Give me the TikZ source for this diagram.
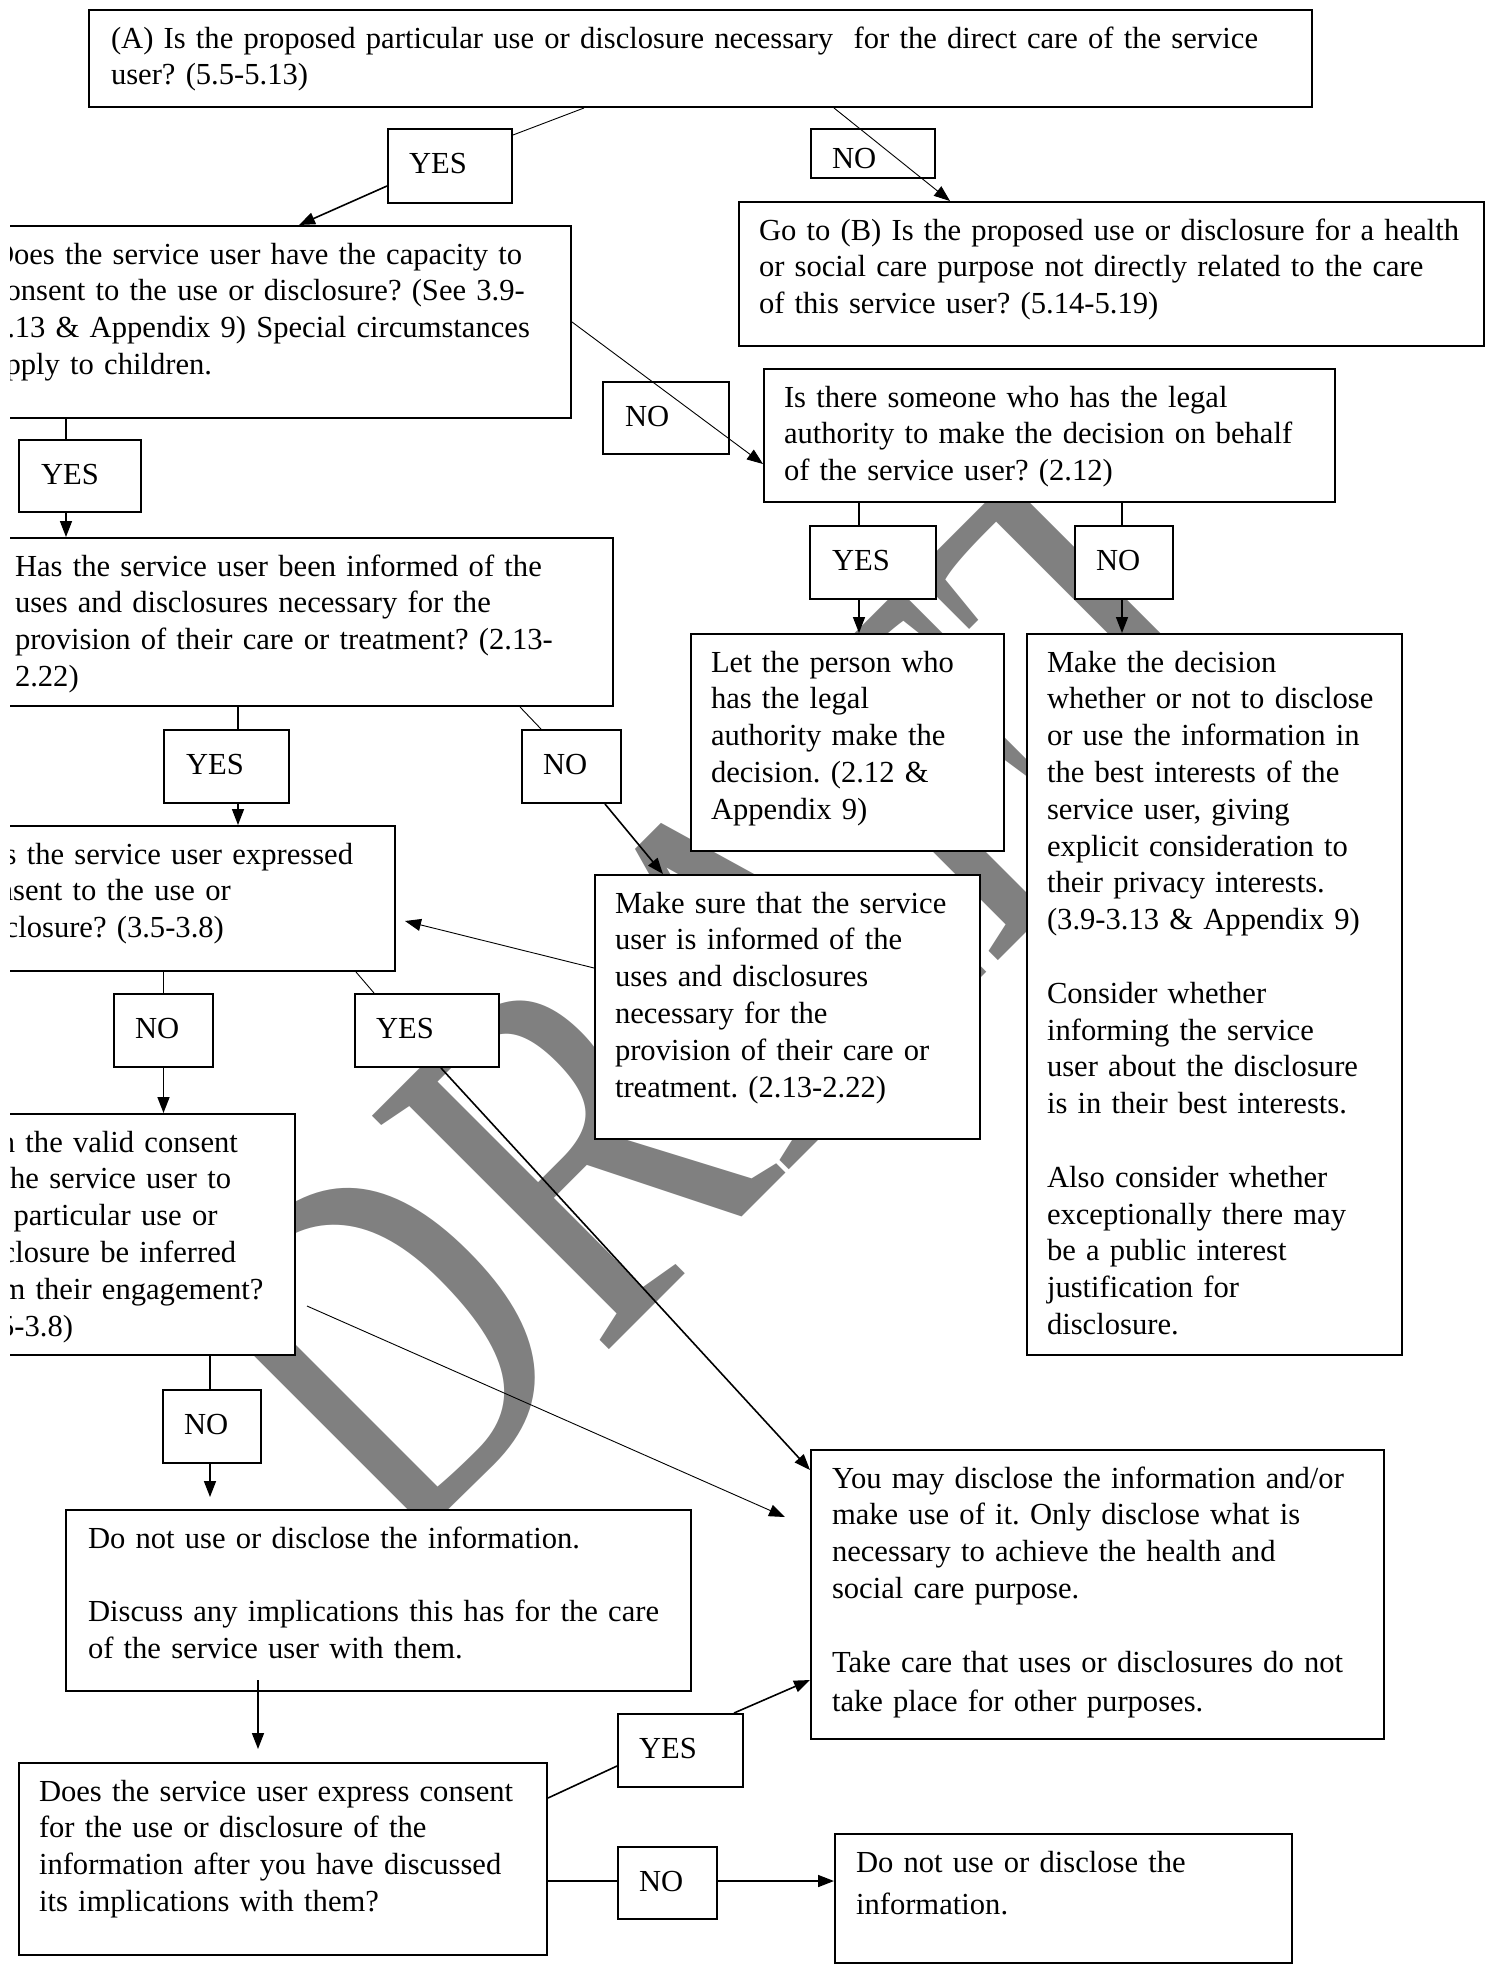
\documentclass[tikz,border=0pt]{standalone}
\usepackage{fontspec}
\setmainfont{Liberation Serif}
\usetikzlibrary{arrows.meta,calc}
\frenchspacing

% lines of a box, left padded, never re-wrapped
\newcommand{\qlines}[2][10pt]{\begin{tabular}[t]{@{\hspace*{#1}}l@{}}#2\end{tabular}}

\tikzset{
	qbox/.style 2 args={draw, fill=white, line width=1pt, anchor=north west, inner sep=0pt,
		text width=#1, text height=19pt, text depth=#2},
	ans/.style 2 args={draw, fill=white, line width=1pt, anchor=north west, inner sep=0pt,
		text width=#1, text height=22pt, text depth=#2},
	link/.style={line width=0.45pt},
	flow/.style={line width=0.8pt},
	>={Triangle[length=8pt,width=6pt]}
}

\begin{document}
\begin{tikzpicture}[x=0.5pt, y=-0.5pt, font=\fontsize{15.3}{18.4}\selectfont]
	\useasboundingbox (0,0) rectangle (1489,1966);
	\fill[white] (0,0) rectangle (1489,1966);
	\clip (10,0) rectangle (1489,1966);

	% watermark
	\node[rotate=45, xscale=0.78, text=gray, inner sep=0pt, font=\fontsize{254}{254}\selectfont] (wm) at (738,984) {DRAFT};

	% question and action boxes
	\node[qbox={611.5pt}{29.5pt}] (bA) at (88,9) {\qlines[11pt]{(A) Is the proposed particular use or disclosure necessary~ for the direct care of the service\\ user? (5.5-5.13)}};
	\node[qbox={372.5pt}{53pt}] (bB) at (738,201) {\qlines{Go to (B) Is the proposed use or disclosure for a health\\ or social care purpose not directly related to the care\\ of this service user? (5.14-5.19)}};
	\node[qbox={299.5pt}{77pt}] (bCap) at (-29,225) {\qlines{Does the service user have the capacity to\\ consent to the use or disclosure? (See 3.9-\\ 3.13 \& Appendix 9) Special circumstances\\ apply to children.}};
	\node[qbox={285.5pt}{47.5pt}] (bLegal) at (763,368) {\qlines{Is there someone who has the legal\\ authority to make the decision on behalf\\ of the service user? (2.12)}};
	\node[qbox={309pt}{65pt}] (bInf) at (-6,537) {\qlines{Has the service user been informed of the\\ uses and disclosures necessary for the\\ provision of their care or treatment? (2.13-\\ 2.22)}};
	\node[qbox={156.5pt}{89.5pt}] (bLet) at (690,633) {\qlines{Let the person who\\ has the legal\\ authority make the\\ decision. (2.12 \&\\ Appendix 9)}};
	\node[qbox={187.5pt}{341.5pt}] (bDec) at (1026,633) {\qlines{Make the decision\\ whether or not to disclose\\ or use the information in\\ the best interests of the\\ service user, giving\\ explicit consideration to\\ their privacy interests.\\ (3.9-3.13 \& Appendix 9)\\ \\ Consider whether\\ informing the service\\ user about the disclosure\\ is in their best interests.\\ \\ Also consider whether\\ exceptionally there may\\ be a public interest\\ justification for\\ disclosure.}};
	\node[qbox={223pt}{53.5pt}] (bCons) at (-52,825) {\qlines{Has the service user expressed\\ consent to the use or\\ disclosure? (3.5-3.8)}};
	\node[qbox={192.5pt}{113pt}] (bSure) at (594,874) {\qlines{Make sure that the service\\ user is informed of the\\ uses and disclosures\\ necessary for the\\ provision of their care or\\ treatment. (2.13-2.22)}};
	\node[qbox={174.5pt}{101.5pt}] (bValid) at (-55,1113) {\qlines{Can the valid consent\\ of the service user to\\ the particular use or\\ disclosure be inferred\\ from their engagement?\\ (3.5-3.8)}};
	\node[qbox={312.5pt}{71.5pt}] (bNot) at (65,1509) {\qlines[11pt]{Do not use or disclose the information.\\ \\ Discuss any implications this has for the care\\ of the service user with them.}};
	\node[qbox={286.5pt}{125.5pt}] (bMay) at (810,1449) {\qlines[10.5pt]{You may disclose the information and/or\\ make use of it. Only disclose what is\\ necessary to achieve the health and\\ social care purpose.\\ \\ Take care that uses or disclosures do not\\[1.5pt] take place for other purposes.}};
	\node[qbox={264pt}{77pt}] (bAsk) at (18,1762) {\qlines{Does the service user express consent\\ for the use or disclosure of the\\ information after you have discussed\\ its implications with them?}};
	\node[qbox={228.5pt}{45.5pt}] (bStop) at (834,1833) {\qlines[10.5pt]{Do not use or disclose the\\[3pt] information.}};

	% yes / no labels
	\node[ans={62pt}{15pt}] (lYes1) at (387,128) {\qlines[10.5pt]{YES}};
	\node[ans={62pt}{5pt}, text height=19.5pt] (lNo1) at (810,128) {\qlines[10.5pt]{NO}};
	\node[ans={63pt}{14pt}] (lNo2) at (602,381) {\qlines[11pt]{NO}};
	\node[ans={61pt}{14pt}] (lYes2) at (18,439) {\qlines[11pt]{YES}};
	\node[ans={63pt}{14.5pt}] (lYes4) at (809,525) {\qlines[11pt]{YES}};
	\node[ans={49pt}{14.5pt}] (lNo4) at (1074,525) {\qlines[10.5pt]{NO}};
	\node[ans={62.5pt}{14.5pt}] (lYes3) at (163,729) {\qlines[11pt]{YES}};
	\node[ans={49.5pt}{14.5pt}] (lNo3) at (521,729) {\qlines[10.5pt]{NO}};
	\node[ans={49.5pt}{14.5pt}] (lNo5) at (113,993) {\qlines[10.5pt]{NO}};
	\node[ans={72pt}{14.5pt}] (lYes5) at (354,993) {\qlines[10.5pt]{YES}};
	\node[ans={49pt}{14.5pt}] (lNo6) at (162,1389) {\qlines[10.5pt]{NO}};
	\node[ans={62.5pt}{14.5pt}] (lYes6) at (617,1713) {\qlines[10.5pt]{YES}};
	\node[ans={49.5pt}{14pt}] (lNo7) at (617,1846) {\qlines[10.5pt]{NO}};

	% (A)
	\draw[link] ($(bA.south west)+(248pt,0pt)$) -- ($(lYes1.north east)+(0pt,-3.5pt)$);
	\draw[flow,->] ($(lYes1.west)+(0pt,-10pt)$) -- ($(bCap.north west)+(164pt,0pt)$);
	\draw[link,->] ($(bA.south west)+(373pt,0pt)$) -- ($(bB.north west)+(106pt,0pt)$);
	% capacity
	\draw[link,->] ($(bCap.north east)+(0pt,-48.5pt)$) -- ($(bLegal.north west)+(0pt,-48pt)$);
	\draw[flow] ($(lYes2.north)+(-7pt,0pt)$) -- ($(lYes2.north |- bCap.south)+(-7pt,0pt)$);
	\draw[flow,->] ($(lYes2.south)+(-7pt,0pt)$) -- ($(lYes2.south |- bInf.north)+(-7pt,0pt)$);
	% legal authority
	\draw[flow] ($(lYes4.north)+(-7pt,0pt)$) -- ($(lYes4.north |- bLegal.south)+(-7pt,0pt)$);
	\draw[flow,->] ($(lYes4.south)+(-7pt,0pt)$) -- ($(lYes4.south |- bLet.north)+(-7pt,0pt)$);
	\draw[flow] ($(lNo4.north)+(-1pt,0pt)$) -- ($(lNo4.north |- bLegal.south)+(-1pt,0pt)$);
	\draw[flow,->] ($(lNo4.south)+(-1pt,0pt)$) -- ($(lNo4.south |- bDec.north)+(-1pt,0pt)$);
	% informed
	\draw[flow] ($(lYes3.north)+(5.75pt,0pt)$) -- ($(lYes3.north |- bInf.south)+(5.75pt,0pt)$);
	\draw[flow,->] ($(lYes3.south)+(5.75pt,0pt)$) -- ($(lYes3.south |- bCons.north)+(5.75pt,0pt)$);
	\draw[link] ($(bInf.south west)+(263pt,0pt)$) -- ($(lNo3.north west)+(10pt,0pt)$);
	\draw[flow,->] ($(lNo3.south west)+(42pt,0pt)$) -- ($(bSure.north west)+(34.5pt,0pt)$);
	\draw[link,->] ($(bSure.north west)+(0pt,-47pt)$) -- ($(bCons.north east)+(4.5pt,-48pt)$);
	% expressed consent
	\draw[flow] (lNo5.north) -- (lNo5.north |- bCons.south);
	\draw[flow,->] (lNo5.south) -- (lNo5.south |- bValid.north);
	\draw[link] ($(bCons.south east)+(-20pt,0pt)$) -- ($(lYes5.north west)+(10pt,0pt)$);
	\draw[flow,->] ($(lYes5.south west)+(43.5pt,0pt)$) -- ($(bMay.north west)+(0pt,-10.5pt)$);
	% inferred consent
	\draw[link,->] ($(bValid.north east)+(5.5pt,-96.5pt)$) -- ($(bMay.north west)+(-12.5pt,-34pt)$);
	\draw[flow] ($(lNo6.north)+(-1pt,0pt)$) -- ($(lNo6.north |- bValid.south)+(-1pt,0pt)$);
	\draw[flow,->] ($(lNo6.south)+(-1pt,0pt)$) -- ($(lNo6.south |- bNot.north)+(-1pt,6pt)$);
	\draw[flow,->] ($(bNot.south west)+(96.5pt,6pt)$) -- ($(bAsk.north west)+(120pt,6.5pt)$);
	% after discussion
	\draw[flow] ($(bAsk.north east)+(0pt,-18pt)$) -- ($(lYes6.north west)+(0pt,-26.5pt)$);
	\draw[flow,->] ($(lYes6.north east)+(-5pt,0pt)$) -- ($(bMay.south west)+(0pt,30pt)$);
	\draw[flow] ($(lNo7.west)+(0pt,1pt)$) -- ($(lNo7.west -| bAsk.east)+(0pt,1pt)$);
	\draw[flow,->] ($(lNo7.east)+(0pt,1pt)$) -- ($(lNo7.east -| bStop.west)+(0pt,1pt)$);
\end{tikzpicture}
\end{document}
